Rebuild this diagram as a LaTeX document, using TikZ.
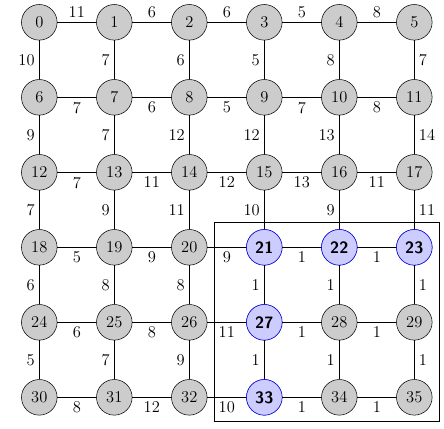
\documentclass[tikz,border=0pt]{standalone}
\usepackage{tikz}
\definecolor{nodegray}{RGB}{204,204,204}
\definecolor{pathblue}{RGB}{204,204,255}

\begin{document}
\begin{tikzpicture}[
    every node/.style={font=\fontsize{12.5}{15}\selectfont},
    vertex/.style={
      circle,
      draw=black,
      fill=nodegray,
      minimum size=0.95cm,
      inner sep=0pt
    },
    picked/.style={
      vertex,
      draw=blue,
      fill=pathblue,
      font=\fontsize{12.5}{15}\selectfont\sffamily\bfseries
    },
    edge/.style={draw=black}
  ]
    \useasboundingbox (-1.048,0.595) rectangle (10.792,-10.819);

    % grid of vertices
    \foreach \r in {0,...,5} {
      \foreach \c in {0,...,5} {
        \pgfmathtruncatemacro{\k}{6*\r+\c}
        \node[vertex] (n\k) at (2*\c, -2*\r) {\k};
      }
    }
    \foreach \k in {21,22,23,27,33} {
      \node[picked] at (n\k) {\k};
    }

    % horizontal edges
    \foreach \a/\b/\w in {0/1/11, 1/2/6, 2/3/6, 3/4/5, 4/5/8}
      \draw[edge] (n\a) -- node[above] {\w} (n\b);
    \foreach \a/\b/\w in {6/7/7, 7/8/6, 8/9/5, 9/10/7, 10/11/8,
                          12/13/7, 13/14/11, 14/15/12, 15/16/13, 16/17/11,
                          18/19/5, 19/20/9, 20/21/9, 21/22/1, 22/23/1,
                          24/25/6, 25/26/8, 26/27/11, 27/28/1, 28/29/1,
                          30/31/8, 31/32/12, 32/33/10, 33/34/1, 34/35/1}
      \draw[edge] (n\a) -- node[below] {\w} (n\b);

    % vertical edges
    \foreach \a/\b/\w in {0/6/10, 1/7/7, 2/8/6, 3/9/5, 4/10/8,
                          6/12/9, 7/13/7, 8/14/12, 9/15/12, 10/16/13,
                          12/18/7, 13/19/9, 14/20/11, 15/21/10, 16/22/9,
                          18/24/6, 19/25/8, 20/26/8, 21/27/1, 22/28/1,
                          24/30/5, 25/31/7, 26/32/9, 27/33/1, 28/34/1}
      \draw[edge] (n\a) -- node[left] {\w} (n\b);
    \foreach \a/\b/\w in {5/11/7, 11/17/14, 17/23/11, 23/29/1, 29/35/1}
      \draw[edge] (n\a) -- node[right] {\w} (n\b);

    % frame round the lower right block
    \draw (4.667,-5.333) rectangle (10.667,-10.64);
  \end{tikzpicture}
\end{document}
